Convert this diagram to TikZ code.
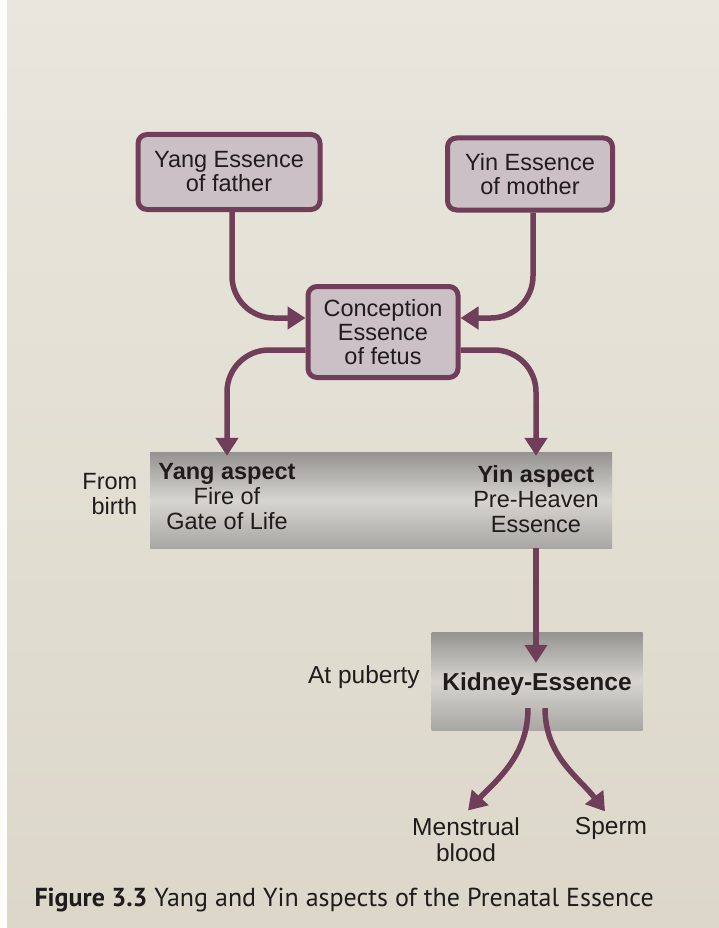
\documentclass[tikz,border=0pt]{standalone}
\usepackage{fontspec}
\setmainfont{Liberation Sans}
\newfontfamily\capfont{PT Sans}
\usetikzlibrary{arrows.meta,positioning}

\definecolor{pagetop}{RGB}{232,230,221}
\definecolor{pagebot}{RGB}{220,215,201}
\definecolor{plum}{RGB}{112,62,88}
\definecolor{boxfill}{RGB}{204,192,199}
\definecolor{inktext}{RGB}{32,28,28}
\definecolor{barTop}{RGB}{148,147,144}
\definecolor{barMid}{RGB}{214,213,208}
\definecolor{barBot}{RGB}{168,167,163}

\begin{document}
\begin{tikzpicture}[
    x=1pt, y=-1pt,
    block/.style={rectangle, draw=plum, line width=5pt, fill=boxfill, rounded corners=9pt, align=center, text=inktext, font=\fontsize{23.5}{24}\selectfont, inner sep=0pt},
    band/.style={rectangle, top color=barTop, bottom color=barBot, middle color=barMid, inner sep=0pt},
    txt/.style={align=center, text=inktext, font=\fontsize{23.5}{25}\selectfont},
    arrow/.style={draw=plum, line width=5.5pt, -{Triangle[length=18pt,width=22pt]}, rounded corners=42pt}
]
    % page
    \shade[top color=pagetop, bottom color=pagebot] (0,0) rectangle (719,928);
    \fill[white!92!pagetop] (0,0) rectangle (7,928);
    \useasboundingbox (0,0) rectangle (719,928);

    \node [block, minimum width=182pt, minimum height=75pt] (yangE) at (229,172) {Yang Essence\\of father};
    \node [block, minimum width=165pt, minimum height=72pt] (yinE) at (530,174) {Yin Essence\\of mother};
    \node [block, minimum width=150pt, minimum height=91pt] (conc) at (383,332) {Conception\\Essence\\of fetus};

    \node [band, minimum width=462pt, minimum height=96pt] (bar) at (381,500) {};
    \node [txt] (yangasp) at (227,497) {\textbf{Yang aspect}\\Fire of\\Gate of Life};
    \node [txt] (yinasp) at (536,499) {\textbf{Yin aspect}\\Pre-Heaven\\Essence};
    \node [txt, align=right, left=9pt of bar.west, yshift=6pt] (birth) {From\\birth};

    \node [band, minimum width=211pt, minimum height=98pt] (kidney) at (537,681) {};
    \node [txt, font=\fontsize{24.5}{25}\selectfont] (kidtext) at (537,684) {\textbf{Kidney-Essence}};
    \node [txt, font=\fontsize{24.5}{25}\selectfont, left=8pt of kidney.west, yshift=4pt] (puberty) {At puberty};

    \node [txt, font=\fontsize{24.5}{26}\selectfont] (mens) at (466,840) {Menstrual\\blood};
    \node [txt, font=\fontsize{24.5}{26}\selectfont] (sperm) at (611,828) {Sperm};

    \draw [arrow] ([xshift=3pt]yangE.south) |- ([yshift=14pt]conc.west);
    \draw [arrow] ([xshift=3pt]yinE.south) |- ([yshift=14pt]conc.east);
    \draw [arrow] ([yshift=-18pt]conc.west) -| ([yshift=-4pt]bar.north -| yangasp);
    \draw [arrow] ([yshift=-18pt]conc.east) -| ([yshift=-4pt]bar.north -| yinasp);
    \draw [arrow] (bar.south -| yinasp) -- ([yshift=-31pt]kidney.north -| yinasp);
    \draw [arrow] ([xshift=-9pt,yshift=22pt]kidney.south) .. controls +(0,48) and +(28,-30) .. ([xshift=2pt,yshift=4pt]mens.north);
    \draw [arrow] ([xshift=8pt,yshift=22pt]kidney.south) .. controls +(0,48) and +(-26,-34) .. ([xshift=-6pt,yshift=2pt]sperm.north);

    % caption
    \node [anchor=west, text=inktext, font=\capfont\fontsize{26}{28}\selectfont] (caption) at (31,900) {\textbf{Figure 3.3}\hspace{7pt}Yang and Yin aspects of the Prenatal Essence};
\end{tikzpicture}
\end{document}
